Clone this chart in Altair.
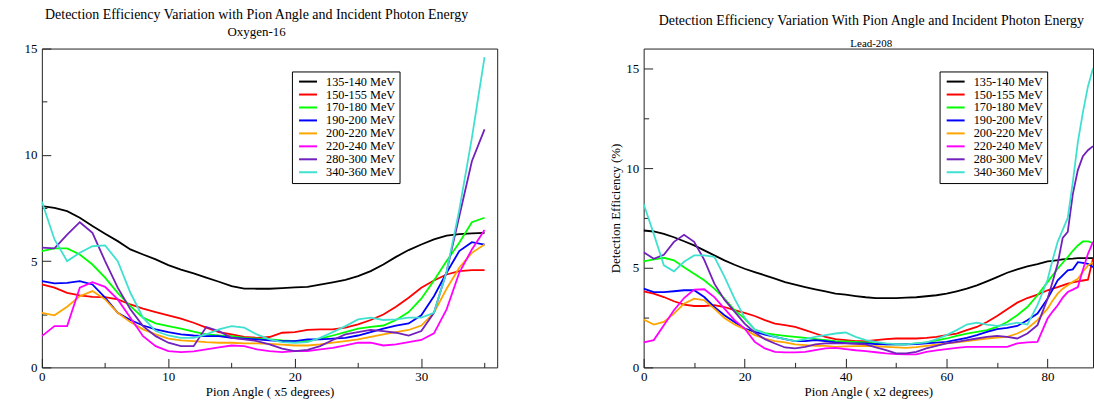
import altair as alt
import pandas as pd

SERIES = ["135-140 MeV", "150-155 MeV", "170-180 MeV", "190-200 MeV",
          "200-220 MeV", "220-240 MeV", "280-300 MeV", "340-360 MeV"]
COLORS = ["#000000", "#ff0000", "#00ff00", "#0000ff",
          "#ffa500", "#ff00ff", "#7221bc", "#40e0d0"]

# ---------------- Oxygen-16 (x5 degrees) ----------------
O16_X = list(range(36))
O16_135 = [7.59, 7.50, 7.35, 7.04, 6.65, 6.29, 5.94, 5.55, 5.31, 5.08, 4.81, 4.60, 4.42, 4.22, 4.03, 3.82, 3.71, 3.70, 3.70, 3.73,
           3.76, 3.79, 3.89, 4.00, 4.12, 4.29, 4.53, 4.84, 5.20, 5.52, 5.78, 6.02, 6.20, 6.27, 6.30, 6.33]
O16_150 = [3.90, 3.75, 3.51, 3.39, 3.32, 3.31, 3.20, 2.96, 2.76, 2.60, 2.45, 2.29, 2.10, 1.87, 1.66, 1.55, 1.44, 1.39, 1.43, 1.63,
           1.66, 1.76, 1.79, 1.79, 1.87, 2.02, 2.23, 2.49, 2.85, 3.28, 3.75, 4.09, 4.37, 4.53, 4.58, 4.58]
O16_170 = [5.47, 5.60, 5.60, 5.31, 4.84, 4.22, 3.51, 2.88, 2.34, 2.07, 1.94, 1.82, 1.68, 1.55, 1.50, 1.47, 1.39, 1.35, 1.32, 1.27,
           1.24, 1.24, 1.35, 1.50, 1.66, 1.82, 1.91, 1.97, 2.23, 2.60, 3.23, 4.09, 5.00, 5.86, 6.83, 7.04]
O16_190 = [4.06, 3.95, 3.98, 4.06, 3.90, 3.28, 2.57, 2.23, 1.97, 1.79, 1.66, 1.55, 1.50, 1.47, 1.47, 1.39, 1.35, 1.32, 1.27, 1.24,
           1.24, 1.32, 1.32, 1.35, 1.39, 1.50, 1.66, 1.82, 1.97, 2.07, 2.45, 3.35, 4.45, 5.47, 5.89, 5.78]
O16_200 = [2.57, 2.45, 2.85, 3.35, 3.59, 3.20, 2.57, 2.13, 1.79, 1.55, 1.35, 1.27, 1.24, 1.19, 1.16, 1.16, 1.13, 1.13, 1.11, 1.07,
           1.03, 1.03, 1.08, 1.16, 1.24, 1.32, 1.44, 1.55, 1.66, 1.76, 1.97, 2.57, 3.70, 4.69, 5.39, 5.78]
O16_220 = [1.47, 1.94, 1.94, 3.75, 4.01, 3.79, 3.20, 2.34, 1.47, 1.00, 0.77, 0.72, 0.75, 0.85, 0.94, 1.03, 1.00, 0.85, 0.77, 0.72,
           0.77, 0.77, 0.85, 0.92, 1.03, 1.16, 1.16, 1.03, 1.08, 1.19, 1.29, 1.60, 2.73, 4.45, 5.55, 6.46]
O16_280 = [5.63, 5.60, 6.25, 6.83, 6.33, 5.00, 3.75, 2.73, 1.94, 1.47, 1.16, 1.00, 1.00, 1.90, 1.71, 1.39, 1.32, 1.24, 1.08, 0.88,
           0.77, 0.82, 1.00, 1.29, 1.55, 1.66, 1.76, 1.71, 1.63, 1.50, 1.71, 2.57, 4.50, 7.10, 9.70, 11.20]
O16_340 = [7.80, 6.02, 5.00, 5.39, 5.70, 5.74, 5.00, 3.51, 2.34, 1.71, 1.50, 1.39, 1.39, 1.55, 1.79, 1.94, 1.87, 1.55, 1.32, 1.19,
           1.16, 1.19, 1.39, 1.66, 1.94, 2.26, 2.34, 2.23, 2.26, 2.34, 2.34, 2.57, 4.50, 7.40, 10.80, 14.60]

# ---------------- Lead-208 (x2 degrees) ----------------
PB_X = list(range(0, 80, 2)) + list(range(80, 90))
PB_135 = [6.87, 6.82, 6.70, 6.53, 6.33, 6.12, 5.87, 5.62, 5.37, 5.15, 4.95, 4.78, 4.62, 4.45, 4.28, 4.15, 4.03, 3.92, 3.82, 3.70,
          3.65, 3.58, 3.52, 3.48, 3.48, 3.48, 3.50, 3.52, 3.57, 3.62, 3.70, 3.82, 3.95, 4.12, 4.32, 4.53, 4.75, 4.92, 5.07, 5.18,
          5.32, 5.35, 5.38, 5.42, 5.45, 5.46, 5.48, 5.48, 5.48, 5.48]
PB_150 = [3.82, 3.70, 3.53, 3.32, 3.15, 3.08, 3.08, 3.12, 3.03, 2.87, 2.73, 2.58, 2.37, 2.20, 2.12, 2.03, 1.87, 1.70, 1.53, 1.42,
          1.37, 1.32, 1.32, 1.37, 1.42, 1.45, 1.45, 1.45, 1.48, 1.53, 1.62, 1.70, 1.87, 2.03, 2.28, 2.58, 2.92, 3.25, 3.48, 3.65,
          3.87, 3.95, 4.03, 4.12, 4.20, 4.26, 4.32, 4.36, 4.40, 5.45]
PB_170 = [5.32, 5.42, 5.50, 5.37, 5.03, 4.70, 4.37, 3.95, 3.45, 2.87, 2.45, 1.90, 1.72, 1.64, 1.58, 1.53, 1.48, 1.42, 1.37, 1.32,
          1.30, 1.28, 1.25, 1.20, 1.15, 1.15, 1.15, 1.20, 1.25, 1.35, 1.45, 1.58, 1.70, 1.78, 1.87, 2.03, 2.28, 2.62, 3.03, 3.62,
          4.28, 4.62, 4.95, 5.25, 5.53, 5.85, 6.12, 6.32, 6.32, 6.25]
PB_190 = [3.95, 3.78, 3.78, 3.82, 3.87, 3.87, 3.53, 3.03, 2.62, 2.28, 1.95, 1.78, 1.65, 1.53, 1.42, 1.32, 1.32, 1.37, 1.32, 1.25,
          1.22, 1.21, 1.20, 1.17, 1.15, 1.15, 1.15, 1.17, 1.20, 1.24, 1.28, 1.38, 1.48, 1.62, 1.78, 1.92, 1.98, 2.08, 2.37, 2.70,
          3.45, 3.90, 4.37, 4.62, 4.87, 4.92, 5.28, 5.25, 5.20, 5.03]
PB_200 = [2.40, 2.15, 2.28, 2.70, 3.20, 3.45, 3.37, 2.95, 2.48, 2.15, 1.92, 1.62, 1.45, 1.32, 1.25, 1.15, 1.12, 1.08, 1.08, 1.03,
          1.05, 1.07, 1.08, 1.06, 1.03, 1.00, 0.98, 1.02, 1.08, 1.14, 1.20, 1.26, 1.32, 1.38, 1.45, 1.50, 1.53, 1.70, 1.95, 2.37,
          2.95, 3.35, 3.70, 3.95, 4.12, 4.30, 4.45, 4.80, 5.12, 5.28]
PB_220 = [1.25, 1.37, 2.12, 2.87, 3.48, 3.90, 3.92, 3.53, 2.95, 2.37, 1.95, 1.28, 0.95, 0.78, 0.75, 0.75, 0.78, 0.87, 0.95, 0.98,
          0.92, 0.86, 0.82, 0.76, 0.70, 0.67, 0.65, 0.65, 0.78, 0.85, 0.92, 0.98, 1.03, 1.03, 1.03, 1.03, 1.03, 1.20, 1.25, 1.28,
          2.45, 2.80, 3.12, 3.50, 3.78, 3.90, 4.03, 4.90, 5.70, 6.30]
PB_280 = [5.78, 5.45, 5.65, 6.30, 6.65, 6.30, 5.40, 4.20, 3.40, 2.80, 2.20, 1.75, 1.42, 1.20, 1.00, 0.95, 1.03, 1.15, 1.20, 1.20,
          1.20, 1.18, 1.15, 1.00, 0.87, 0.70, 0.70, 0.78, 0.95, 1.08, 1.20, 1.28, 1.37, 1.45, 1.53, 1.58, 1.53, 1.45, 1.70, 2.12,
          3.45, 4.30, 5.20, 6.50, 6.80, 8.70, 9.90, 10.60, 10.90, 11.10]
PB_340 = [8.20, 6.70, 5.12, 4.82, 5.30, 5.62, 5.62, 5.55, 4.55, 3.45, 2.50, 1.90, 1.70, 1.53, 1.42, 1.32, 1.42, 1.53, 1.62, 1.70,
          1.75, 1.53, 1.37, 1.28, 1.20, 1.17, 1.15, 1.20, 1.25, 1.42, 1.62, 1.87, 2.15, 2.25, 2.15, 2.08, 2.15, 2.25, 2.15, 3.12,
          4.40, 5.40, 6.30, 6.90, 7.50, 9.30, 11.30, 12.80, 14.10, 15.00]

O16_SERIES = [O16_135, O16_150, O16_170, O16_190, O16_200, O16_220, O16_280, O16_340]
PB_SERIES = [PB_135, PB_150, PB_170, PB_190, PB_200, PB_220, PB_280, PB_340]

FONT = "Liberation Serif"
FRAME = "#222222"
MAJOR = 9
MINOR = 5


def long_frame(xs, series_list):
    rows = []
    for name, ys in zip(SERIES, series_list):
        for x, y in zip(xs, ys):
            rows.append({"x": x, "y": y, "series": name})
    return pd.DataFrame(rows)


def tick_dash(test):
    # axis line is pulled MAJOR px inside the frame; minor ticks only draw
    # their last MINOR px so that every tick touches the frame
    return {"condition": {"test": test, "value": [MAJOR, 0]},
            "value": [0, MAJOR - MINOR, MINOR, 0]}


def panel(xs, series_list, xdom, ydom, width, height, xmaj, xmin, xstep,
          ymaj, ymin, ystep, xtitle, ytitle, yext, ytitlepad, legx, legy, title):
    df = long_frame(xs, series_list)
    xs_ = alt.Scale(domain=xdom, nice=False, zero=False)
    ys_ = alt.Scale(domain=ydom, nice=False, zero=False)
    xtest = f"datum.value % {xstep} === 0"
    ytest = f"datum.value % {ystep} === 0"
    xaxis = alt.Axis(
        values=sorted(xmaj + xmin), format="d",
        labelExpr=f"{xtest} ? datum.label : ''",
        ticks=True, tickSize=MAJOR, tickColor=FRAME, tickWidth=1,
        tickDash=tick_dash(xtest), offset=-MAJOR,
        domain=False, grid=False,
        labelFont=FONT, labelFontSize=13, labelColor="black", labelPadding=3,
        labelFlush=False, labelOverlap=False,
        title=xtitle, titleFont=FONT, titleFontSize=13, titleFontWeight="normal",
        titleColor="black", titlePadding=2)
    yaxis = alt.Axis(
        values=sorted(ymaj + ymin), format="d",
        labelExpr=f"{ytest} ? datum.label : ''",
        ticks=True, tickSize=MAJOR, tickColor=FRAME, tickWidth=1,
        tickDash=tick_dash(ytest), offset=-MAJOR,
        domain=False, grid=False,
        labelFont=FONT, labelFontSize=13, labelColor="black", labelPadding=5,
        labelFlush=False, labelOverlap=False,
        minExtent=yext + MAJOR, maxExtent=yext + MAJOR,
        title=ytitle, titleFont=FONT, titleFontSize=13, titleFontWeight="normal",
        titleColor="black", titlePadding=ytitlepad)
    lines = alt.Chart(df).mark_line(strokeWidth=1.8, clip=True).encode(
        x=alt.X("x:Q", scale=xs_, axis=xaxis),
        y=alt.Y("y:Q", scale=ys_, axis=yaxis),
        color=alt.Color("series:N", sort=SERIES,
                        scale=alt.Scale(domain=SERIES, range=COLORS),
                        legend=alt.Legend(
                            title=None, orient="none", legendX=legx, legendY=legy,
                            strokeColor="black", fillColor="white", padding=4,
                            symbolType="M-1.8,0H1.8", symbolSize=100, symbolStrokeWidth=2,
                            symbolOffset=6, labelOffset=12, rowPadding=0,
                            labelFont=FONT, labelFontSize=12.3, labelColor="black",
                            labelLimit=200)),
    )
    return lines.properties(width=width, height=height, title=title)


left_title = alt.TitleParams(
    text="Detection Efficiency Variation with Pion Angle and Incident Photon Energy",
    subtitle="Oxygen-16", font=FONT, fontSize=14, fontWeight="normal", color="black",
    subtitleFont=FONT, subtitleFontSize=13, subtitleColor="black", subtitlePadding=4,
    anchor="middle", frame="group", offset=4, dx=-13)
right_title = alt.TitleParams(
    text="Detection Efficiency Variation With Pion Angle and Incident Photon Energy",
    subtitle="Lead-208", font=FONT, fontSize=14, fontWeight="normal", color="black",
    subtitleFont=FONT, subtitleFontSize=11, subtitleColor="black", subtitlePadding=10,
    anchor="middle", frame="group", offset=0, dx=3)

left = panel(O16_X, O16_SERIES, [0, 36], [0, 15], 457, 320,
             [0, 10, 20, 30], [5, 15, 25, 35], 10,
             [0, 5, 10, 15], [2.5, 7.5, 12.5], 5,
             "Pion Angle ( x5 degrees)", "", 41, 0, 251, 23, left_title)
right = panel(PB_X, PB_SERIES, [0, 89], [0, 16], 451, 320,
              [0, 20, 40, 60, 80], [10, 30, 50, 70], 20,
              [0, 5, 10, 15], [2.5, 7.5, 12.5], 5,
              "Pion Angle ( x2 degrees)", "Detection Efficiency (%)", 17, 4, 297, 23,
              right_title)

chart = alt.hconcat(left, right, spacing=111).resolve_scale(
    color="independent").resolve_legend(color="independent").properties(
    padding={"left": 0, "right": 0, "top": 6, "bottom": 0},
    background="white",
).configure_view(stroke=FRAME, strokeWidth=1)

chart.save("out.html", embed_options={"renderer": "svg", "actions": False})
